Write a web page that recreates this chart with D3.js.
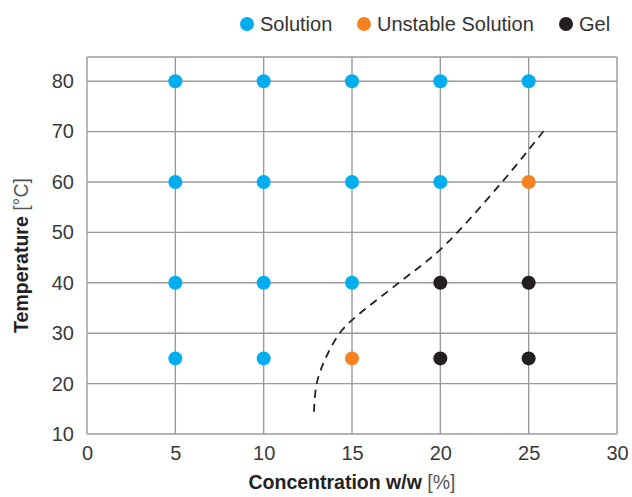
<!DOCTYPE html>
<html><head><meta charset="utf-8">
<script src="https://cdn.jsdelivr.net/npm/d3@7"></script>
<style>body{margin:0;background:#fff}svg{display:block}</style>
</head><body>
<script>
const xTicks = [0,5,10,15,20,25,30];
const yTicks = [10,20,30,40,50,60,70,80];
const concentrations = [5,10,15,20,25];
const temperatures = [25,40,60,80];
// state per [temperature][concentration]
const states = {
  80: ["Solution","Solution","Solution","Solution","Solution"],
  60: ["Solution","Solution","Solution","Solution","Unstable Solution"],
  40: ["Solution","Solution","Solution","Gel","Gel"],
  25: ["Solution","Solution","Unstable Solution","Gel","Gel"]
};
const legendNames = ["Solution","Unstable Solution","Gel"];
const legendColors = ["#00aeef","#f58220","#231f20"];
const boundaryX = [12.85,13.0,13.5,14.3,15.0,17.65,20.0,23.5,25.92];
const boundaryY = [14.4,20,25,30,32.6,40,46.6,60,70.45];

const W=632,H=497, m={l:87,r:15,t:57,b:63};
const svg=d3.select("body").append("svg").attr("width",W).attr("height",H);
const x=d3.scaleLinear().domain([0,30]).range([m.l,W-m.r]);
const y=d3.scaleLinear().domain([10,84.8]).range([H-m.b,m.t]);
const color=d3.scaleOrdinal().domain(legendNames).range(legendColors);
const font="'Liberation Sans', Arial, sans-serif";
const gridC="#9a9a9a";

const g=svg.append("g");
g.selectAll(".vg").data(xTicks).join("line").attr("x1",d=>x(d)).attr("x2",d=>x(d))
 .attr("y1",m.t).attr("y2",H-m.b).attr("stroke",gridC).attr("stroke-width",1.4);
g.selectAll(".hg").data(yTicks).join("line").attr("y1",d=>y(d)).attr("y2",d=>y(d))
 .attr("x1",m.l).attr("x2",W-m.r).attr("stroke",gridC).attr("stroke-width",1.4);
g.append("line").attr("x1",m.l).attr("x2",W-m.r).attr("y1",m.t).attr("y2",m.t).attr("stroke",gridC).attr("stroke-width",1.4);

const xa=svg.append("g").attr("transform",`translate(0,${H-m.b})`)
 .call(d3.axisBottom(x).tickValues(xTicks).tickSize(0).tickPadding(12));
const ya=svg.append("g").attr("transform",`translate(${m.l},0)`)
 .call(d3.axisLeft(y).tickValues(yTicks).tickSize(0).tickPadding(13));
[xa,ya].forEach(a=>{a.select(".domain").remove();
 a.selectAll("text").attr("font-family",font).attr("font-size",20).attr("fill","#3a3a3a");});

const pts=boundaryX.map((d,i)=>[d,boundaryY[i]]);
svg.append("path").datum(pts).attr("fill","none").attr("stroke","#222").attr("stroke-width",1.8)
 .attr("stroke-dasharray","8,6")
 .attr("d",d3.line().x(d=>x(d[0])).y(d=>y(d[1])).curve(d3.curveCatmullRom.alpha(0.5)));

const dots=[];
temperatures.forEach(t=>concentrations.forEach((c,i)=>dots.push({c,t,s:states[t][i]})));
svg.selectAll(".dot").data(dots).join("circle").attr("cx",d=>x(d.c)).attr("cy",d=>y(d.t))
 .attr("r",7).attr("fill",d=>color(d.s));

const xt=svg.append("text").attr("x",(m.l+W-m.r)/2).attr("y",489).attr("text-anchor","middle")
 .attr("font-family",font).attr("font-size",19.5).attr("fill","#222");
xt.append("tspan").attr("font-weight","bold").text("Concentration w/w ");
xt.append("tspan").attr("fill","#555").text("[%]");
const yt=svg.append("text").attr("transform",`translate(28,${(m.t+H-m.b)/2+10}) rotate(-90)`)
 .attr("text-anchor","middle").attr("font-family",font).attr("font-size",19.5).attr("fill","#222");
yt.append("tspan").attr("font-weight","bold").text("Temperature ");
yt.append("tspan").attr("fill","#555").text("[°C]");

const legX=[247,364,566];
const lg=svg.selectAll(".leg").data(legendNames).join("g").attr("transform",(d,i)=>`translate(${legX[i]},24)`);
lg.append("circle").attr("r",7).attr("fill",d=>color(d));
lg.append("text").attr("x",13).attr("y",7).attr("font-family",font).attr("font-size",20)
 .attr("fill","#333").text(d=>d);
</script>
</body></html>
